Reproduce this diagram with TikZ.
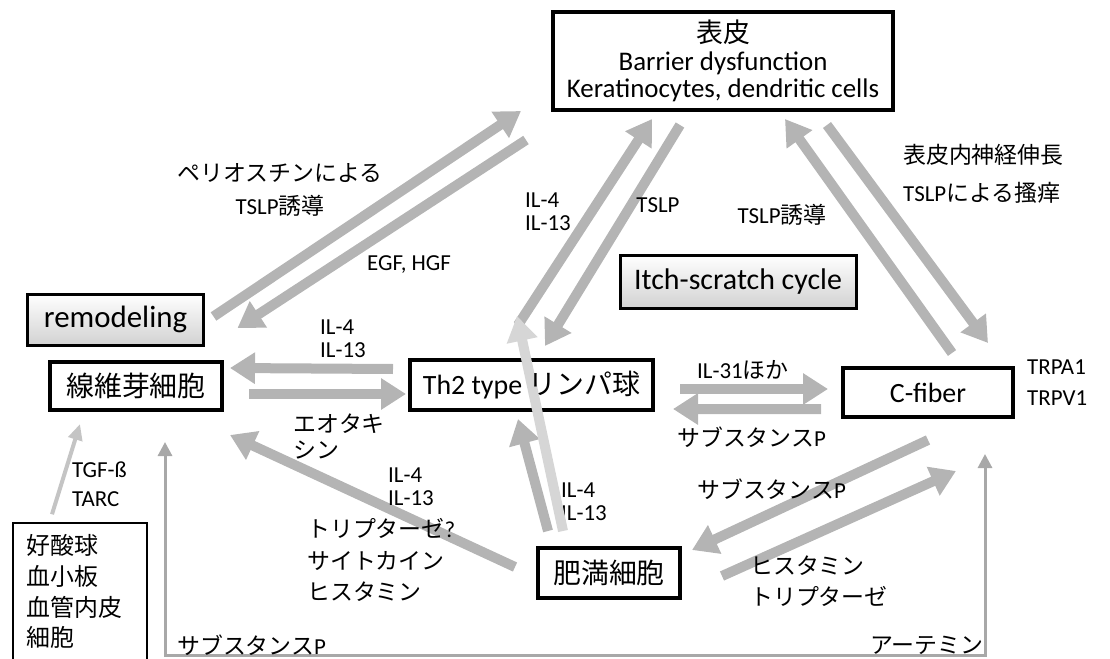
\documentclass[tikz,border=0pt]{standalone}
\usepackage{fontspec}
\setmainfont{Carlito}
\newfontfamily\jp{Noto Sans CJK JP}
\usetikzlibrary{arrows.meta}
\definecolor{flowgray}{HTML}{B4B4B4}
\definecolor{flowlight}{HTML}{D6D6D6}
\definecolor{feedgray}{HTML}{A8A8A8}
\definecolor{srcgray}{HTML}{C4C4C4}
\definecolor{shadegray}{HTML}{D2D2D2}
\newcommand{\jtext}[1]{{\jp #1}}
\tikzset{
  cellbox/.style={draw, line width=4bp, inner sep=0pt, fill=white, font=\fontsize{28}{28}\selectfont},
  themebox/.style={draw, line width=3bp, inner sep=0pt, top color=white, bottom color=shadegray},
  lbl/.style={inner sep=0pt, anchor=west, align=left, font=\fontsize{23}{23}\selectfont},
  flow/.style={draw=flowgray, line width=10bp, -{Triangle[width=30bp,length=25bp]}},
  lightflow/.style={flow, draw=flowlight},
  srcflow/.style={draw=srcgray, line width=4bp, -{Triangle[width=14bp,length=16bp]}},
  feed/.style={draw=feedgray, line width=3bp, {Triangle[width=14bp,length=14bp]}-{Triangle[width=14bp,length=14bp]}}
}
\begin{document}
\begin{tikzpicture}[x=1bp, y=-1bp]
  \useasboundingbox (0,0) rectangle (1110,659);

  % Cells and themes
  \node[cellbox, minimum width=340bp, minimum height=98bp, align=center, font=\fontsize{27}{27.5}\selectfont] (epid) at (723,61)
    {\jtext{表皮}\\Barrier dysfunction\\Keratinocytes, dendritic cells};
  \node[themebox, minimum width=175bp, minimum height=51bp, font=\fontsize{31}{31}\selectfont] (remod) at (115.5,319.5) {remodeling};
  \node[cellbox, minimum width=172bp, minimum height=48bp] (fibro) at (136,386) {\jtext{線維芽細胞}};
  \node[cellbox, minimum width=243bp, minimum height=50bp] (th2) at (531.5,385) {};
  \node[themebox, minimum width=236bp, minimum height=53bp, font=\fontsize{30}{30}\selectfont] (itch) at (738,281.5) {Itch-scratch cycle};
  \node[cellbox, minimum width=170bp, minimum height=49bp] (cfiber) at (928,392.5) {C-fiber};
  \node[cellbox, minimum width=142bp, minimum height=50bp] (mast) at (609,573) {\jtext{肥満細胞}};
  \node[draw, line width=1.5bp, inner sep=0pt, minimum width=134bp, minimum height=137bp, text width=106bp, align=left,
    font=\jp\fontsize{24}{31}\selectfont] (src) at (80,591.5) {好酸球\\血小板\\血管内皮\\細胞};

  % Epidermis loops
  \draw[flow] ([shift={(9,-3)}]remod.east) -- ([shift={(-30,-1)}]epid.south west);
  \draw[flow] ([shift={(-25,28)}]epid.south west) -- ([shift={(33,8.5)}]remod.east);
  \draw[flow] ([shift={(-13.5,-33)}]th2.north) -- ([shift={(-71,7)}]epid.south);
  \draw[flow] ([shift={(-43,13)}]epid.south) -- ([shift={(13.5,-12)}]th2.north);
  \draw[flow] ([shift={(24,-13)}]cfiber.north) -- ([shift={(62,7)}]epid.south);
  \draw[flow] ([shift={(104,13)}]epid.south) -- ([shift={(60,-23)}]cfiber.north);

  % Middle row
  \draw[flow] ([shift={(-15,-16)}]th2.west) -- ([shift={(6,-18)}]fibro.east);
  \draw[flow] ([shift={(25,8)}]fibro.east) -- ([shift={(-2,9)}]th2.west);
  \draw[flow] ([shift={(25,4)}]th2.east) -- ([shift={(-13,-3.5)}]cfiber.west);
  \draw[flow] ([shift={(-20,16.5)}]cfiber.west) -- ([shift={(18,24)}]th2.east);

  % Mast cell
  \draw[flow] ([shift={(0,21)}]cfiber.south) -- ([shift={(10,-23)}]mast.east);
  \draw[flow] ([shift={(40,3)}]mast.east) -- ([shift={(28,52)}]cfiber.south);
  \draw[flow] ([shift={(-21,-6)}]mast.west) -- ([shift={(6,23)}]fibro.south east);
  \draw[flow] ([shift={(-61,-15)}]mast.north) -- ([shift={(-13.5,7)}]th2.south);

  % Lower feeds
  \draw[srcflow] ([shift={(-28,-8)}]src.north) -- ([shift={(-56,12)}]fibro.south);
  \coordinate (floor) at (575,655);
  \draw[feed] ([shift={(29,30)}]fibro.south) |- (floor) -| ([shift={(57,35)}]cfiber.south);

  % Labels
  \node[lbl, anchor=center, align=center, font=\fontsize{23}{34}\selectfont] (peri) at (280,190) {\jtext{ペリオスチンによる}\\TSLP\jtext{誘導}};
  \node[lbl] (egf) at (367,265) {EGF, HGF};
  \node[lbl] (ilepi) at (525,211.5) {IL-4\\IL-13};
  \node[lbl] (ilfib) at (320,338.5) {IL-4\\IL-13};
  \node[lbl] (ilmast) at (388,486.5) {IL-4\\IL-13};
  \node[lbl] (ilth) at (561,501.5) {IL-4\\IL-13};
  \node[lbl, anchor=center] (tslp) at (658,205) {TSLP};
  \node[lbl, anchor=center] (tslpind) at (782,215) {TSLP\jtext{誘導}};
  \node[lbl, font=\fontsize{23}{38}\selectfont] (nerve) at (903,174) {\jtext{表皮内神経伸長}\\TSLP\jtext{による搔痒}};
  \node[lbl, font=\fontsize{23}{27}\selectfont] (eot) at (293,436.5) {\jtext{エオタキ}\\\jtext{シン}};
  \node[lbl, font=\fontsize{23}{32}\selectfont] (tryp) at (307,560) {\jtext{トリプターゼ}?\\\jtext{サイトカイン}\\\jtext{ヒスタミン}};
  \node[lbl, font=\fontsize{23}{29}\selectfont] (tgf) at (72,484.5) {TGF-ß\\TARC};
  \node[lbl] (subpa) at (177,645) {\jtext{サブスタンス}P};
  \node[lbl] (il31) at (697,370) {IL-31\jtext{ほか}};
  \node[lbl] (subpb) at (677,437) {\jtext{サブスタンス}P};
  \node[lbl] (subpc) at (697,489) {\jtext{サブスタンス}P};
  \node[lbl, font=\fontsize{23}{31}\selectfont] (hist) at (750,581.5) {\jtext{ヒスタミン}\\\jtext{トリプターゼ}};
  \node[lbl] (artemin) at (870,645) {\jtext{アーテミン}};
  \node[lbl, font=\fontsize{23}{31}\selectfont] (trp) at (1027,382.5) {TRPA1\\TRPV1};

  % Light feed across the Th2 box, its text on top
  \draw[lightflow] ([shift={(-46,-15)}]mast.north) -- ([shift={(-14.5,-42)}]th2.north);
  \node[inner sep=0pt, font=\fontsize{28}{28}\selectfont] (th2txt) at (th2) {Th2 type \jtext{リンパ球}};
\end{tikzpicture}
\end{document}
